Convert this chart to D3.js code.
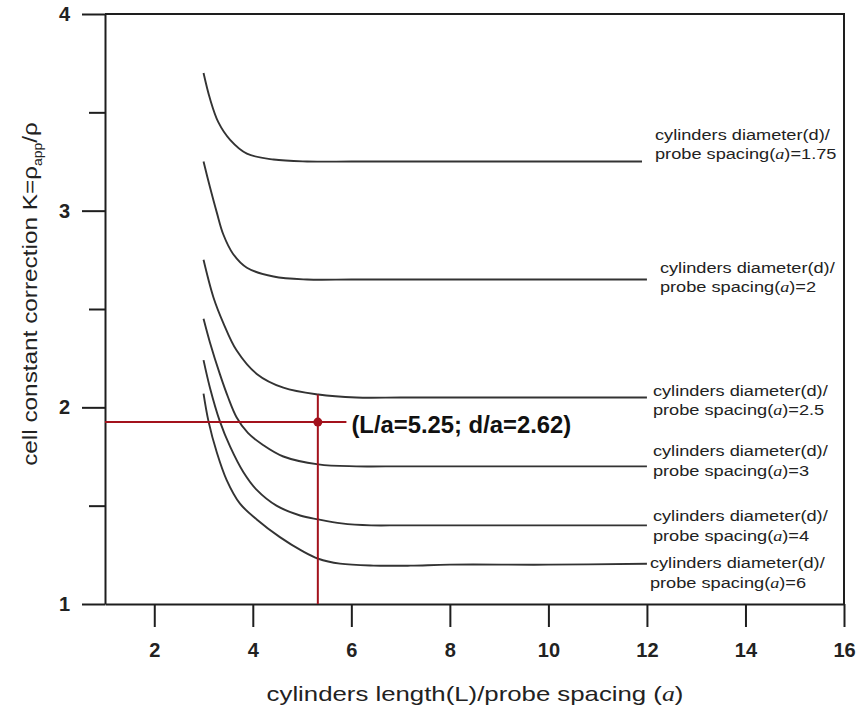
<!DOCTYPE html>
<meta charset="utf-8">
<script src="https://cdn.jsdelivr.net/npm/d3@7"></script>
<style>
  body { margin: 0; background: #fff; }
  text { font-family: "Liberation Sans", Arial, sans-serif; }
</style>
<div id="chart"></div>
<script>

// ticks
const xTicks = [2, 4, 6, 8, 10, 12, 14, 16];
const yTicks = [1, 2, 3, 4];
const yMinorTicks = [1.5, 2.5, 3.5];

// d/a ratio of each curve
const ratios = ["1.75", "2", "2.5", "3", "4", "6"];

// [L/a, K]
const curve175 = [[3.0, 3.70], [3.13, 3.57], [3.3, 3.45], [3.54, 3.36], [3.88, 3.29], [4.42, 3.26], [5.1, 3.25], [6, 3.25], [7, 3.25], [9, 3.25], [11.9, 3.25]];
const curve2   = [[3.0, 3.25], [3.13, 3.12], [3.27, 2.99], [3.40, 2.88], [3.60, 2.78], [3.88, 2.71], [4.42, 2.665], [5.1, 2.65], [6, 2.65], [7, 2.65], [9, 2.65], [12, 2.65]];
const curve25  = [[3.0, 2.75], [3.2, 2.56], [3.4, 2.43], [3.67, 2.29], [4.08, 2.17], [4.62, 2.10], [5.33, 2.065], [6.1, 2.05], [7, 2.05], [8, 2.05], [10, 2.05], [12, 2.05]];
const curve3   = [[3.0, 2.45], [3.13, 2.33], [3.33, 2.17], [3.5, 2.05], [3.67, 1.95], [3.9, 1.87], [4.2, 1.81], [4.62, 1.75], [5.33, 1.71], [6.1, 1.70], [7, 1.70], [8, 1.70], [10, 1.70], [12, 1.70]];
const curve4   = [[3.0, 2.24], [3.13, 2.10], [3.33, 1.93], [3.54, 1.80], [3.81, 1.67], [4.08, 1.58], [4.48, 1.50], [4.96, 1.45], [5.33, 1.43], [5.8, 1.41], [6.4, 1.40], [7, 1.40], [8, 1.40], [10, 1.40], [12, 1.40]];
const curve6   = [[3.0, 2.07], [3.10, 1.93], [3.27, 1.77], [3.47, 1.63], [3.74, 1.51], [4.08, 1.43], [4.55, 1.34], [5.0, 1.27], [5.33, 1.23], [5.77, 1.205], [6.45, 1.195], [7.2, 1.195], [8, 1.20], [10, 1.20], [12, 1.205]];
const curves = [curve175, curve2, curve25, curve3, curve4, curve6];

// red read-off point
const pointL = 5.32, pointK = 1.925;
const guideTop = 2.065, guideEnd = 5.9;
const annotation = "(L/a=5.25; d/a=2.62)";

// label placement next to the curve ends (px)
const labelGap = [13, 13, 6, 6, 6, 3];
const labelDy = [-22, -7, -2, -10, -4, 4];

const margin = {top: 14, right: 16, bottom: 106, left: 105},
    width = 860 - margin.left - margin.right,
    height = 710 - margin.top - margin.bottom;

const svg = d3.select("#chart")
  .append("svg")
    .attr("width", width + margin.left + margin.right)
    .attr("height", height + margin.top + margin.bottom)
  .append("g")
    .attr("transform", `translate(${margin.left},${margin.top})`);

const x = d3.scaleLinear().domain([1, 16]).range([0, width]);
const y = d3.scaleLinear().domain([1, 4]).range([height, 0]);

const ink = "#1e1e1e";
const red = "#a3121c";

// stretch a text to the width it has in the picture
function fit(sel, target, tx, ty, rot) {
  const w = sel.node().getComputedTextLength();
  sel.attr("transform", `translate(${tx},${ty})` + (rot ? ` rotate(${rot})` : "") + ` scale(${target / w},1)`);
}

// X axis
const xAxis = svg.append("g")
  .attr("transform", `translate(0,${height})`)
  .call(d3.axisBottom(x).tickValues(xTicks).tickFormat(d3.format("d"))
    .tickSize(23).tickPadding(16).tickSizeOuter(0));

// Y axis, major and minor ticks
const yAxis = svg.append("g")
  .call(d3.axisLeft(y).tickValues(yTicks).tickFormat(d3.format("d"))
    .tickSize(23).tickPadding(12).tickSizeOuter(0));
const yMinor = svg.append("g")
  .call(d3.axisLeft(y).tickValues(yMinorTicks).tickSize(16).tickFormat(""));
yMinor.select(".domain").remove();

[xAxis, yAxis, yMinor].forEach(g => {
  g.selectAll("path, line").attr("stroke", ink).attr("stroke-width", 2);
  g.selectAll("text")
    .attr("fill", "#222")
    .style("font-size", "20px")
    .style("font-weight", "bold")
    .style("font-family", "'Liberation Sans', Arial, sans-serif");
});

// top and right side of the frame
svg.append("path")
  .attr("d", `M${x(1)},${y(4)}H${x(16)}V${y(1)}`)
  .attr("fill", "none")
  .attr("stroke", ink)
  .attr("stroke-width", 2);

// curves
const line = d3.line()
  .x(d => x(d[0]))
  .y(d => y(d[1]))
  .curve(d3.curveCatmullRom.alpha(0.5));

svg.append("g")
  .selectAll("path")
  .data(curves)
  .join("path")
    .attr("d", line)
    .attr("fill", "none")
    .attr("stroke", "#333")
    .attr("stroke-width", 1.9);

// curve labels
curves.forEach((c, i) => {
  const end = c[c.length - 1];
  const tx = x(end[0]) + labelGap[i], ty = y(end[1]) + labelDy[i];
  const g = svg.append("g");
  const t1 = g.append("text")
    .attr("fill", "#222")
    .style("font-size", "15px")
    .text("cylinders diameter(d)/");
  const t2 = g.append("text")
    .attr("y", 20)
    .attr("fill", "#222")
    .style("font-size", "15px");
  t2.append("tspan").text("probe spacing(");
  t2.append("tspan")
    .style("font-family", "'Liberation Serif', serif")
    .style("font-style", "italic")
    .text("a");
  t2.append("tspan").text(")=" + ratios[i]);
  const s = 175 / t1.node().getComputedTextLength();
  g.attr("transform", `translate(${tx},${ty}) scale(${s},1)`);
});

// red guides
svg.append("line")
  .attr("x1", x(1)).attr("x2", x(guideEnd))
  .attr("y1", y(pointK)).attr("y2", y(pointK))
  .attr("stroke", red).attr("stroke-width", 2);
svg.append("line")
  .attr("x1", x(pointL)).attr("x2", x(pointL))
  .attr("y1", y(1)).attr("y2", y(guideTop))
  .attr("stroke", red).attr("stroke-width", 2);
svg.append("circle")
  .attr("cx", x(pointL)).attr("cy", y(pointK))
  .attr("r", 4.5)
  .attr("fill", red);

const note = svg.append("text")
  .attr("fill", "#111")
  .style("font-size", "24px")
  .style("font-weight", "bold")
  .text(annotation);
fit(note, 220, x(guideEnd) + 5, y(pointK) + 11);

// axis titles
const xTitle = svg.append("text")
  .attr("text-anchor", "middle")
  .attr("fill", "#222")
  .style("font-size", "21px");
xTitle.append("tspan").text("cylinders length(L)/probe spacing (");
xTitle.append("tspan")
  .style("font-family", "'Liberation Serif', serif")
  .style("font-style", "italic")
  .text("a");
xTitle.append("tspan").text(")");
fit(xTitle, 417, 370, 687);

const yTitle = svg.append("text")
  .attr("text-anchor", "middle")
  .attr("fill", "#222")
  .style("font-size", "21px");
yTitle.append("tspan").text("cell constant correction K=ρ");
yTitle.append("tspan").attr("dy", 5).style("font-size", "12px").text("app");
yTitle.append("tspan").attr("dy", -5).text("/ρ");
fit(yTitle, 344, -68, 280, -90);

</script>
